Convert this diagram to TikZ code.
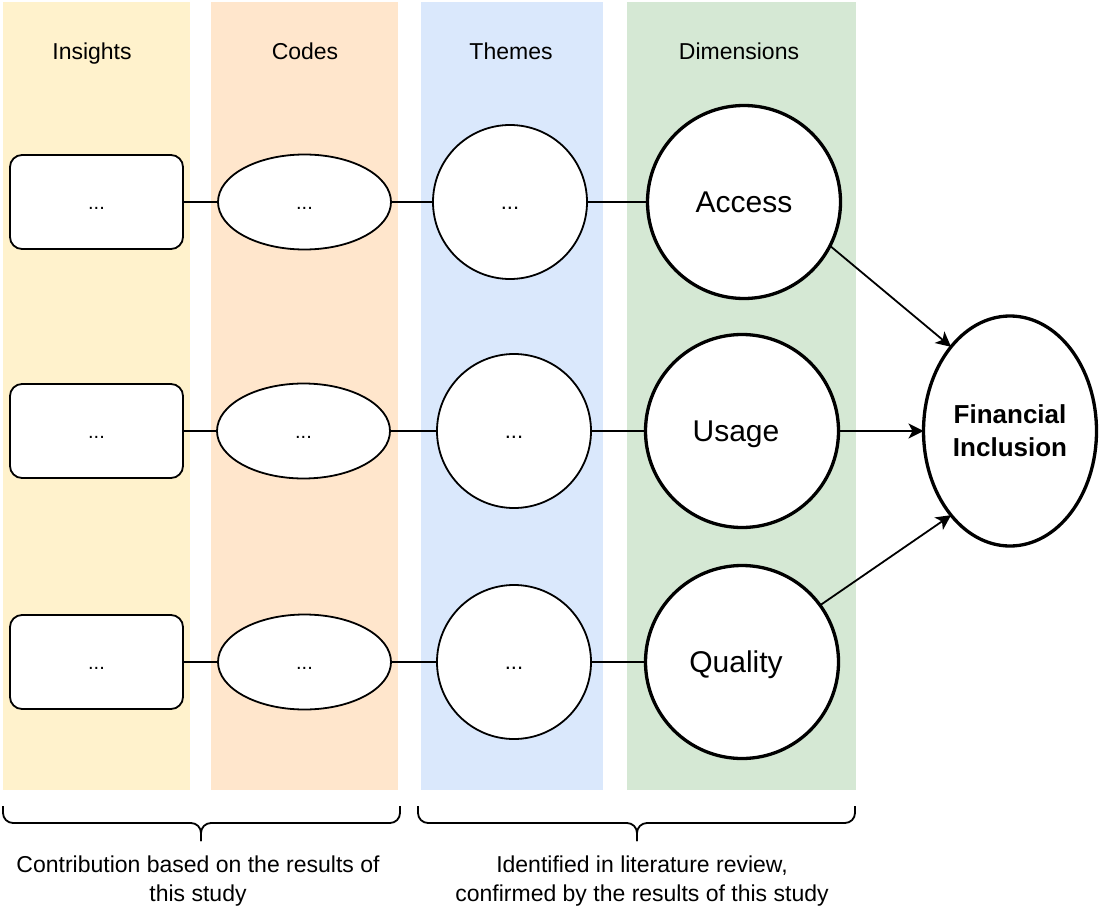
\documentclass[tikz,border=0pt]{standalone}
\usepackage{fontspec}
\setmainfont{Liberation Sans}
\usetikzlibrary{arrows.meta,shapes.geometric}

\definecolor{insightbg}{HTML}{FFF2CC}
\definecolor{codebg}{HTML}{FFE6CC}
\definecolor{themebg}{HTML}{DAE8FC}
\definecolor{dimbg}{HTML}{D5E8D4}

\begin{document}
\begin{tikzpicture}[x=1pt, y=-1pt,
  every node/.style={inner sep=0pt, outer sep=0pt},
  header/.style={anchor=base, font=\fontsize{23}{28}\selectfont},
  insightbox/.style={draw, line width=1.8pt, fill=white, rounded corners=12pt,
    minimum width=173pt, minimum height=94pt,
    font=\fontsize{20}{24}\selectfont, text height=14.4pt, text depth=0pt},
  codeoval/.style={draw, line width=1.8pt, fill=white, ellipse,
    minimum width=173pt, minimum height=95pt,
    font=\fontsize{20}{24}\selectfont, text height=14.4pt, text depth=0pt},
  themecircle/.style={draw, line width=1.8pt, fill=white, circle,
    minimum size=154pt,
    font=\fontsize{22}{26}\selectfont, text height=15.8pt, text depth=0pt},
  dimcircle/.style={draw, line width=3.3pt, fill=white, circle,
    minimum size=193pt,
    font=\fontsize{30}{36}\selectfont, text height=21.5pt, text depth=0pt},
  outcome/.style={draw, line width=3.3pt, fill=white, ellipse,
    minimum width=173pt, minimum height=230pt, align=center,
    font=\fontsize{26}{33}\selectfont\bfseries},
  link/.style={line width=1.8pt},
  flow/.style={line width=1.8pt, -{Stealth[length=15pt, width=15pt, inset=4pt]}},
  bracket/.style={line width=1.8pt, rounded corners=10pt},
  caption/.style={anchor=north, align=center, font=\fontsize{23}{29}\selectfont}
]
\useasboundingbox (0,0) rectangle (1099,912);

% column backgrounds
\fill[insightbg] (3,2) rectangle (190,790);
\fill[codebg]    (211,2) rectangle (398,790);
\fill[themebg]   (421,2) rectangle (603,790);
\fill[dimbg]     (627,2) rectangle (856,790);

% column headers
\node[header] (hInsights) at (92,60) {Insights};
\node[header] (hCodes) at (305,60) {Codes};
\node[header] (hThemes) at (511,60) {Themes};
\node[header] (hDims) at (739,60) {Dimensions};

% row 1
\node[insightbox] (i1) at (96.5,202) {...};
\node[codeoval]   (c1) at (304.5,202) {...};
\node[themecircle] (t1) at (510,202) {...};
\node[dimcircle]  (access) at (744,202) {Access};

% row 2
\node[insightbox] (i2) at (96.5,431) {...};
\node[codeoval]   (c2) at (303.5,431) {...};
\node[themecircle] (t2) at (514,431) {...};
\node[dimcircle]  (usage) at (742,431) {Usage\hspace*{12pt}};

% row 3
\node[insightbox] (i3) at (96.5,662) {...};
\node[codeoval]   (c3) at (304.5,662) {...};
\node[themecircle] (t3) at (514,662) {...};
\node[dimcircle]  (quality) at (742,662) {Quality\hspace*{12pt}};

% outcome
\node[outcome] (fi) at (1010,431) {Financial\\Inclusion};

% links along each row
\draw[link] (i1) -- (c1); \draw[link] (c1) -- (t1); \draw[link] (t1) -- (access);
\draw[link] (i2) -- (c2); \draw[link] (c2) -- (t2); \draw[link] (t2) -- (usage);
\draw[link] (i3) -- (c3); \draw[link] (c3) -- (t3); \draw[link] (t3) -- (quality);

% dimensions feeding the outcome
\draw[flow] (access.-27) -- (fi.125);
\draw[flow] (usage.east) -- (fi.west);
\draw[flow] (quality.36) -- (fi.-125);

% braces under the columns
\draw[bracket] (3,806) -- (3,823) -- (201,823) -- (201,841);
\draw[bracket] (400,806) -- (400,823) -- (201,823) -- (201,841);
\draw[bracket] (418,806) -- (418,823) -- (637,823) -- (637,841);
\draw[bracket] (855,806) -- (855,823) -- (637,823) -- (637,841);

% brace captions
\node[caption] (capLeft) at (198,856) {Contribution based on the results of\\this study};
\node[caption] (capRight) at (642,856) {Identified in literature review,\\confirmed by the results of this study};
\end{tikzpicture}
\end{document}
